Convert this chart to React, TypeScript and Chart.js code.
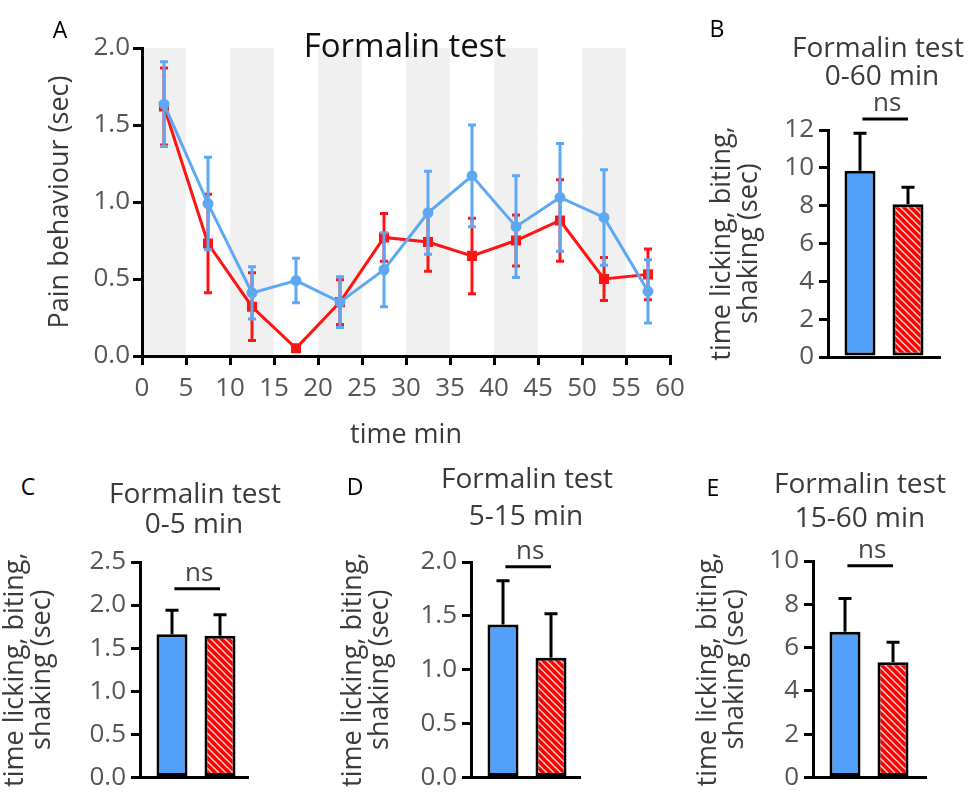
import React, { useEffect, useRef } from 'react';
import { Chart, registerables } from 'chart.js';
Chart.register(...registerables);

const FONT = "'Open Sans', 'DejaVu Sans', sans-serif";
Chart.defaults.font.family = FONT;

const BLUE_LINE = '#5ea7f2';
const RED_LINE = '#ff1414';
const BLUE_BAR = '#52a0fa';
const RED_BAR = '#ff0000';
const TICK_COLOR = '#555555';
const TITLE_COLOR = '#3a3a3a';

// ---------- Panel A data ----------
const timePoints = [2.5, 7.5, 12.5, 17.5, 22.5, 27.5, 32.5, 37.5, 42.5, 47.5, 52.5, 57.5];
const blueMean = [1.635, 0.99, 0.41, 0.49, 0.35, 0.56, 0.93, 1.17, 0.84, 1.03, 0.9, 0.42];
const blueSem = [0.275, 0.3, 0.17, 0.145, 0.165, 0.24, 0.27, 0.33, 0.33, 0.35, 0.31, 0.205];
const redMean = [1.62, 0.73, 0.32, 0.05, 0.35, 0.77, 0.74, 0.65, 0.75, 0.88, 0.5, 0.53];
const redSem = [0.25, 0.32, 0.22, 0.0, 0.145, 0.155, 0.19, 0.245, 0.165, 0.265, 0.14, 0.165];
const shadedStarts = [0, 10, 20, 30, 40, 50];
const shadedWidth = 5;

// ---------- Bar panels data ----------
const groups = [1, 2];
const mean0to60 = [9.85, 8.07];
const sem0to60 = [1.98, 0.9];
const mean0to5 = [1.66, 1.645];
const sem0to5 = [0.28, 0.243];
const mean5to15 = [1.42, 1.11];
const sem5to15 = [0.405, 0.41];
const mean15to60 = [6.73, 5.32];
const sem15to60 = [1.54, 0.92];
const nsSpan = [1.05, 2.0];
const yTitleLines = ['time licking, biting,', 'shaking (sec)'];

const barPanels = [
  { id: 'B', mean: mean0to60, sem: sem0to60, yMax: 12, step: 2, dec: 0, nsY: 12.58,
    canvas: { left: 690, top: 95, width: 285, height: 290 }, area: { left: 828, top: 130, right: 940, bottom: 357 }, yTitleX: 722 },
  { id: 'C', mean: mean0to5, sem: sem0to5, yMax: 2.5, step: 0.5, dec: 1, nsY: 2.19,
    canvas: { left: 0, top: 540, width: 270, height: 258 }, area: { left: 140, top: 562, right: 248, bottom: 788 }, yTitleX: 15 },
  { id: 'D', mean: mean5to15, sem: sem5to15, yMax: 2.0, step: 0.5, dec: 1, nsY: 1.956,
    canvas: { left: 335, top: 540, width: 265, height: 258 }, area: { left: 471, top: 562, right: 580, bottom: 787 }, yTitleX: 353 },
  { id: 'E', mean: mean15to60, sem: sem15to60, yMax: 10, step: 2, dec: 0, nsY: 9.78,
    canvas: { left: 690, top: 540, width: 285, height: 258 }, area: { left: 813, top: 561, right: 926, bottom: 787 }, yTitleX: 708 },
];

const overlayText = [
  { text: 'A', cx: 60, base: 38, size: 23, color: '#000' },
  { text: 'Formalin test', cx: 405, base: 57, size: 33, color: '#111' },
  { text: 'B', cx: 717, base: 37, size: 23, color: '#000' },
  { text: 'Formalin test', cx: 878, base: 57, size: 28, color: TITLE_COLOR },
  { text: '0-60 min', cx: 882, base: 85, size: 28, color: TITLE_COLOR },
  { text: 'C', cx: 28, base: 495, size: 23, color: '#000' },
  { text: 'Formalin test', cx: 195, base: 503, size: 28, color: TITLE_COLOR },
  { text: '0-5 min', cx: 194, base: 533, size: 28, color: TITLE_COLOR },
  { text: 'D', cx: 355, base: 495, size: 23, color: '#000' },
  { text: 'Formalin test', cx: 527, base: 488, size: 28, color: TITLE_COLOR },
  { text: '5-15 min', cx: 526, base: 525, size: 28, color: TITLE_COLOR },
  { text: 'E', cx: 713, base: 496, size: 23, color: '#000' },
  { text: 'Formalin test', cx: 860, base: 493, size: 28, color: TITLE_COLOR },
  { text: '15-60 min', cx: 860, base: 527, size: 28, color: TITLE_COLOR },
];

// ---------- plugins ----------
const bandsPlugin = {
  id: 'bands',
  beforeDraw(chart: any, _args: any, opts: any) {
    if (!opts || !opts.starts) return;
    const { top, bottom } = chart.chartArea;
    const xs = chart.scales.x;
    const ctx = chart.ctx;
    ctx.save();
    ctx.fillStyle = opts.color;
    opts.starts.forEach((s: number) => {
      const x1 = xs.getPixelForValue(s);
      const x2 = xs.getPixelForValue(s + opts.width);
      ctx.fillRect(x1, top, x2 - x1, bottom - top);
    });
    ctx.restore();
  },
};

const lineErrorPlugin = {
  id: 'lineErrors',
  afterDatasetDraw(chart: any, args: any) {
    const ds: any = chart.data.datasets[args.index];
    if (!ds.errors) return;
    const ys = chart.scales.y;
    const ctx = chart.ctx;
    ctx.save();
    ctx.strokeStyle = ds.borderColor;
    ctx.lineWidth = 3;
    args.meta.data.forEach((el: any, i: number) => {
      const e = ds.errors[i];
      if (!e) return;
      const v = ds.data[i].y;
      const x = el.x;
      const t = ys.getPixelForValue(v + e);
      const b = ys.getPixelForValue(v - e);
      ctx.beginPath();
      ctx.moveTo(x, t); ctx.lineTo(x, b);
      ctx.moveTo(x - 4, t); ctx.lineTo(x + 4, t);
      ctx.moveTo(x - 4, b); ctx.lineTo(x + 4, b);
      ctx.stroke();
    });
    ctx.restore();
  },
};

const barErrorPlugin = {
  id: 'barErrors',
  afterDatasetsDraw(chart: any) {
    const ys = chart.scales.y;
    const ctx = chart.ctx;
    ctx.save();
    ctx.strokeStyle = '#000';
    ctx.lineWidth = 3;
    chart.data.datasets.forEach((ds: any, di: number) => {
      if (!ds.errors) return;
      const meta = chart.getDatasetMeta(di);
      meta.data.forEach((el: any, i: number) => {
        const v = ds.data[i].y;
        const t = ys.getPixelForValue(v + ds.errors[i]);
        ctx.beginPath();
        ctx.moveTo(el.x, el.y); ctx.lineTo(el.x, t);
        ctx.moveTo(el.x - 6.5, t); ctx.lineTo(el.x + 6.5, t);
        ctx.stroke();
      });
    });
    ctx.restore();
  },
};

const nsPlugin = {
  id: 'nsMark',
  afterDraw(chart: any, _args: any, opts: any) {
    if (!opts || opts.y == null) return;
    const xs = chart.scales.x;
    const ys = chart.scales.y;
    const ctx = chart.ctx;
    const x1 = xs.getPixelForValue(opts.from);
    const x2 = xs.getPixelForValue(opts.to);
    const y = ys.getPixelForValue(opts.y);
    ctx.save();
    ctx.strokeStyle = '#000';
    ctx.lineWidth = 3;
    ctx.beginPath();
    ctx.moveTo(x1, y); ctx.lineTo(x2, y);
    ctx.stroke();
    ctx.fillStyle = '#444';
    ctx.font = `26px ${FONT}`;
    ctx.textAlign = 'center';
    ctx.textBaseline = 'alphabetic';
    ctx.fillText(opts.text, (x1 + x2) / 2 + 2, y - 8);
    ctx.restore();
  },
};

function makeHatch(ctx: CanvasRenderingContext2D) {
  const s = 7;
  const c = document.createElement('canvas');
  c.width = s; c.height = s;
  const g = c.getContext('2d')!;
  g.fillStyle = RED_BAR;
  g.fillRect(0, 0, s, s);
  g.strokeStyle = 'rgba(255,255,255,0.85)';
  g.lineWidth = 1.3;
  [-s, 0, s].forEach((k) => {
    g.beginPath();
    g.moveTo(-1, -1 + k);
    g.lineTo(s + 1, s + 1 + k);
    g.stroke();
  });
  return ctx.createPattern(c, 'repeat');
}

const axisGrid = {
  display: true, drawOnChartArea: false, drawTicks: true, tickLength: 9,
  tickWidth: 3, tickColor: '#000', color: '#000', lineWidth: 3,
};
const axisBorder = { display: true, color: '#000', width: 3 };

function configA(): any {
  const canvasW = 700, canvasH = 460;
  const area = { left: 142, top: 48, right: 670, bottom: 356 };
  const yTitleSize = 27, yTitleLH = yTitleSize * 1.2;
  const yTitleX = 60;
  const padLeft = yTitleX - yTitleLH / 2;
  return {
    type: 'line',
    data: {
      datasets: [
        {
          label: 'blue', data: timePoints.map((t, i) => ({ x: t, y: blueMean[i] })),
          borderColor: BLUE_LINE, backgroundColor: BLUE_LINE, borderWidth: 3, tension: 0,
          pointStyle: 'circle', pointRadius: 4, errors: blueSem,
        },
        {
          label: 'red', data: timePoints.map((t, i) => ({ x: t, y: redMean[i] })),
          borderColor: RED_LINE, backgroundColor: RED_LINE, borderWidth: 3, tension: 0,
          pointStyle: 'rect', pointRadius: 5, errors: redSem,
        },
      ],
    },
    options: {
      animation: false, responsive: false, maintainAspectRatio: false,
      layout: { padding: { left: padLeft, top: area.top, right: canvasW - area.right, bottom: 0 } },
      plugins: {
        legend: { display: false }, tooltip: { enabled: false },
        bands: { starts: shadedStarts, width: shadedWidth, color: '#f0f0f0' },
      },
      scales: {
        x: {
          type: 'linear', min: 0, max: 60,
          ticks: { stepSize: 5, color: TICK_COLOR, font: { size: 26 }, padding: 8, maxRotation: 0, autoSkip: false },
          grid: axisGrid, border: axisBorder,
          title: { display: true, text: 'time min', color: TITLE_COLOR, font: { size: 27 }, padding: { top: 0, bottom: 8 } },
          afterFit: (s: any) => { s.height = canvasH - area.bottom; },
        },
        y: {
          min: 0, max: 2,
          ticks: { stepSize: 0.5, color: TICK_COLOR, font: { size: 26 }, padding: 3, callback: (v: any) => Number(v).toFixed(1) },
          grid: axisGrid, border: axisBorder,
          title: { display: true, text: 'Pain behaviour (sec)', color: TITLE_COLOR, font: { size: yTitleSize }, padding: 0 },
          afterFit: (s: any) => { s.width = area.left - padLeft; },
        },
      },
    },
    plugins: [bandsPlugin, lineErrorPlugin],
  };
}

function barConfig(canvas: HTMLCanvasElement, p: any): any {
  const ctx = canvas.getContext('2d')!;
  const hatch = makeHatch(ctx);
  const cv = p.canvas;
  const a = {
    left: p.area.left - cv.left, right: p.area.right - cv.left,
    top: p.area.top - cv.top, bottom: p.area.bottom - cv.top,
  };
  const titleSize = 27, titleLH = 1.0;
  const padLeft = p.yTitleX - cv.left - (titleSize * titleLH) / 2;
  const pxPerUnit = 48;
  const xMin = groups[0] - 32 / pxPerUnit;
  const xMax = xMin + (a.right - a.left) / pxPerUnit;
  return {
    type: 'bar',
    data: {
      datasets: [
        {
          data: groups.map((g, i) => ({ x: g, y: p.mean[i] })),
          backgroundColor: [BLUE_BAR, hatch],
          borderColor: '#000', borderWidth: 3, borderSkipped: false,
          grouped: false, categoryPercentage: 1, barPercentage: 6, maxBarThickness: 31,
          errors: p.sem,
        },
      ],
    },
    options: {
      animation: false, responsive: false, maintainAspectRatio: false,
      layout: { padding: { left: padLeft, top: a.top, right: cv.width - a.right, bottom: 0 } },
      plugins: {
        legend: { display: false }, tooltip: { enabled: false },
        nsMark: { y: p.nsY, from: nsSpan[0], to: nsSpan[1], text: 'ns' },
      },
      scales: {
        x: {
          type: 'linear', min: xMin, max: xMax, offset: false, bounds: 'data',
          ticks: { display: false, stepSize: 1 }, grid: { display: false, offset: false }, border: axisBorder,
          afterFit: (s: any) => { s.height = cv.height - a.bottom; },
        },
        y: {
          min: 0, max: p.yMax,
          ticks: {
            stepSize: p.step, color: TICK_COLOR, font: { size: 26 }, padding: 5,
            callback: (v: any) => Number(v).toFixed(p.dec),
          },
          grid: axisGrid, border: axisBorder,
          title: { display: true, text: yTitleLines, color: TITLE_COLOR, font: { size: titleSize, lineHeight: titleLH }, padding: 0 },
          afterFit: (s: any) => { s.width = a.left - padLeft; },
        },
      },
    },
    plugins: [barErrorPlugin, nsPlugin],
  };
}

function TextLine({ text, cx, base, size, color }: any) {
  return (
    <div
      style={{
        position: 'absolute', left: cx - 200, width: 400, top: base - 0.888 * size,
        textAlign: 'center', fontSize: size, lineHeight: 1, color, whiteSpace: 'nowrap',
        fontFamily: FONT,
      }}
    >
      {text}
    </div>
  );
}

export default function App() {
  const aRef = useRef<HTMLCanvasElement>(null);
  const barRefs = useRef<(HTMLCanvasElement | null)[]>([]);
  useEffect(() => {
    const charts: Chart[] = [];
    if (aRef.current) charts.push(new Chart(aRef.current, configA()));
    barPanels.forEach((p, i) => {
      const c = barRefs.current[i];
      if (c) charts.push(new Chart(c, barConfig(c, p)));
    });
    return () => charts.forEach((c) => c.destroy());
  }, []);
  return (
    <div style={{ position: 'absolute', left: 0, top: 0, width: 975, height: 798, background: '#fff', overflow: 'hidden' }}>
      <canvas ref={aRef} width={700} height={460} style={{ position: 'absolute', left: 0, top: 0 }} />
      {barPanels.map((p, i) => (
        <canvas
          key={p.id}
          ref={(el) => { barRefs.current[i] = el; }}
          width={p.canvas.width}
          height={p.canvas.height}
          style={{ position: 'absolute', left: p.canvas.left, top: p.canvas.top }}
        />
      ))}
      {overlayText.map((t, i) => (
        <TextLine key={i} {...t} />
      ))}
    </div>
  );
}
